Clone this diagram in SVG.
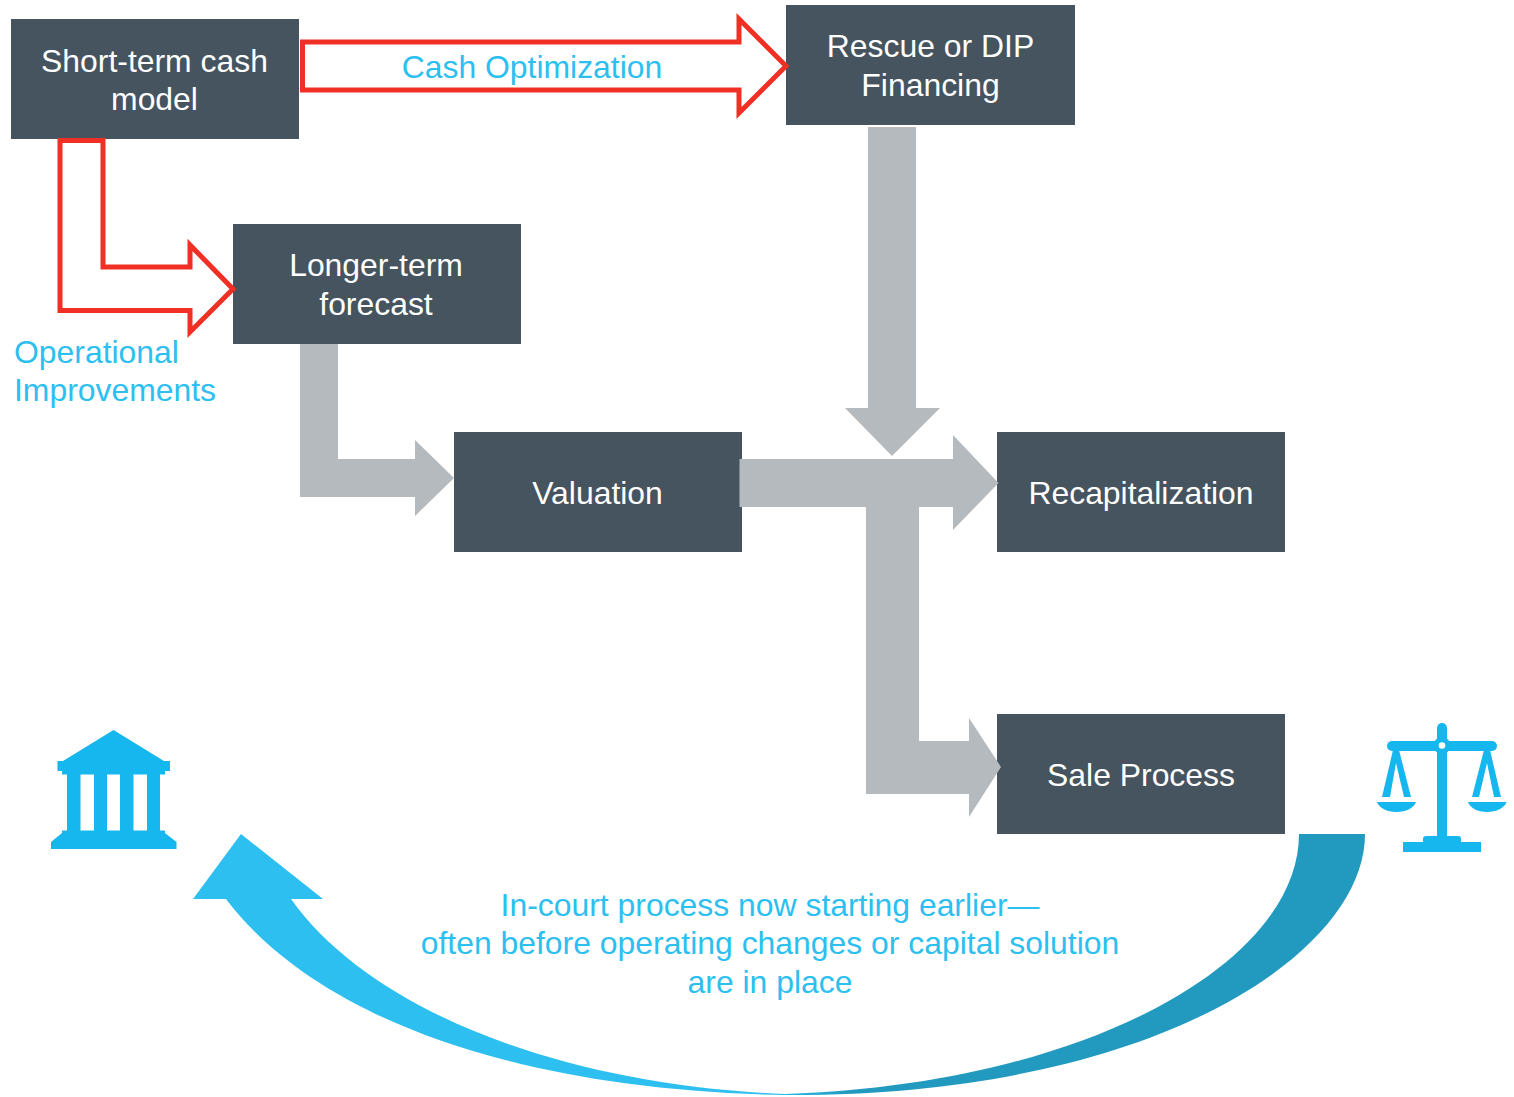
<svg xmlns="http://www.w3.org/2000/svg" width="1514" height="1097" viewBox="0 0 1514 1097">
<style>
text{font-family:"Liberation Sans",Arial,sans-serif;font-size:31.9px;text-anchor:middle}
.box{fill:#45545F}
.w{fill:#fff}
.c{fill:#2CBFF0}
.g{fill:#B5BABE}
.r{fill:#fff;stroke:#F03024;stroke-width:5;stroke-linejoin:miter;stroke-miterlimit:10}
.i{fill:#16B6EE}
</style>
<defs>
<linearGradient id="sweep" gradientUnits="userSpaceOnUse" x1="770" y1="0" x2="850" y2="0">
<stop offset="0" stop-color="#2CBFF0"/><stop offset="1" stop-color="#229ABF"/>
</linearGradient>
</defs>
<rect width="1514" height="1097" fill="#fff"/>
<g id="n1"><rect class="box" x="11" y="19" width="288" height="120"/><text class="w" x="154.500" y="72">Short-term cash</text><text class="w" x="154.500" y="110">model</text></g>
<g id="n2"><rect class="box" x="786" y="5" width="289" height="120"/><text class="w" x="930.500" y="57">Rescue or DIP</text><text class="w" x="930.500" y="96">Financing</text></g>
<g id="n3"><rect class="box" x="233" y="224" width="288" height="120"/><text class="w" x="376" y="276">Longer-term</text><text class="w" x="376" y="315">forecast</text></g>
<g id="n4"><rect class="box" x="454" y="432" width="288" height="120"/><text class="w" x="597.500" y="504">Valuation</text></g>
<g id="n5"><rect class="box" x="997" y="432" width="288" height="120"/><text class="w" x="1141" y="504">Recapitalization</text></g>
<g id="n6"><rect class="box" x="997" y="714" width="288" height="120"/><text class="w" x="1141" y="786">Sale Process</text></g>
<g id="connectors">
<polygon class="r" points="302.500,42 739,42 739,19 786,66 739,113 739,90 302.500,90"/>
<polygon class="r" points="60,140.500 103,140.500 103,267 190,267 190,245 233,289 190,332 190,310.500 60,310.500"/>
<polygon class="g" points="300,344 338,344 338,459 415,459 415,440 454,478 415,516 415,497 300,497"/>
<polygon class="g" points="868,127 916,127 916,408 940,408 892,456 845,408 868,408"/>
<polygon class="g" points="739.500,459 953,459 953,435 998.500,483 953,530 953,507 919,507 919,741 969,741 969,718 1001,767 969,817 969,794 866,794 866,507 739.500,507"/>
<path fill="url(#sweep)" d="M1365,834 C1365,955 1150,1097 785,1095 C500,1090 310,1010 226,899 L193,899 L241,834 L323,899 L291,899 C370,1010 560,1085 785,1094 C1080,1085 1299,965 1299,834 Z"/>
</g>
<text class="c" x="532" y="78">Cash Optimization</text>
<text class="c" x="14" y="363" style="text-anchor:start">Operational</text>
<text class="c" x="14" y="401" style="text-anchor:start">Improvements</text>
<text class="c" x="770" y="915.500">In-court process now starting earlier—</text>
<text class="c" x="770" y="953.500">often before operating changes or capital solution</text>
<text class="c" x="770" y="992.500">are in place</text>
<g id="bank">
<path class="i" fill-rule="evenodd" d="M113.500,730 L164,761 L170,761 L170,771 L165,771 L165,774.500 L160,774.500 L160,830.500 L165,830.500 L165,833 L176.500,842 L176.500,849 L51,849 L51,842 L62,833 L62,830.500 L67,830.500 L67,774.500 L62,774.500 L62,771 L57.500,771 L57.500,761 L63,761 Z M80.500,774.500 L80.500,830.500 L94,830.500 L94,774.500 Z M107,774.500 L107,830.500 L120,830.500 L120,774.500 Z M133.500,774.500 L133.500,830.500 L147,830.500 L147,774.500 Z"/>
</g>
<g id="scales">
<rect class="i" x="1437" y="723" width="10" height="118" rx="5"/>
<rect class="i" x="1387" y="741" width="110" height="10" rx="5"/>
<circle class="i" cx="1442" cy="745.500" r="8.500"/>
<circle cx="1442" cy="745.500" r="3.300" fill="#fff"/>
<rect class="i" x="1423" y="836" width="38" height="10" rx="3"/>
<rect class="i" x="1403" y="842" width="78" height="10"/>
<polygon class="i" points="1393,750 1382,797 1390,797 1396,763 1404,797 1411,797 1399,750"/>
<polygon class="i" points="1484,750 1472,797 1479,797 1487,763 1494,797 1501,797 1490,750"/>
<path class="i" d="M1377,802 L1416,802 C1414,808 1406,812 1396.500,812 C1387,812 1379,808 1377,802 Z"/>
<path class="i" d="M1468,802 L1506.500,802 C1504.500,808 1496.500,812 1487,812 C1477.500,812 1470,808 1468,802 Z"/>
</g>
</svg>
